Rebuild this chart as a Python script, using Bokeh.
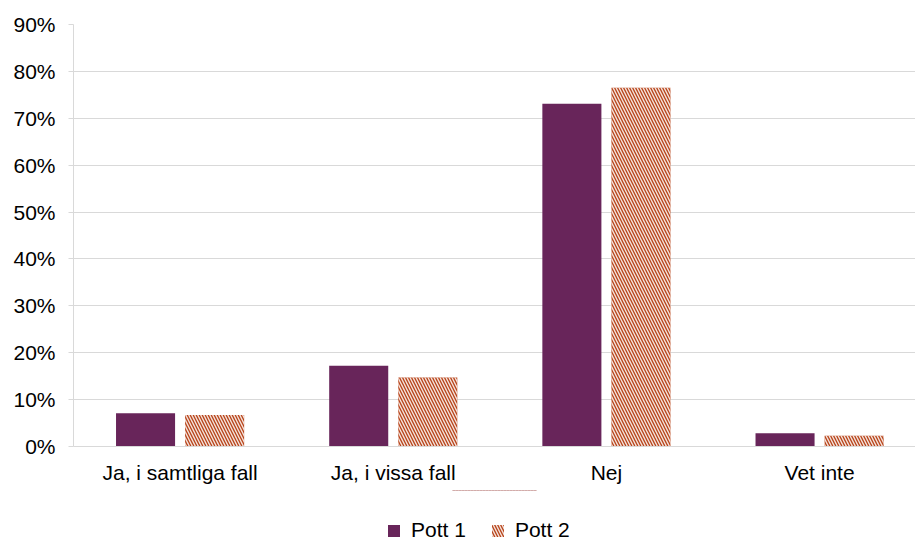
from bokeh.plotting import figure
from bokeh.models import ColumnDataSource, FixedTicker, NumeralTickFormatter, Legend, LegendItem
from bokeh.layouts import column
from bokeh.transform import dodge
from bokeh.embed import file_html
from bokeh.resources import INLINE

categories = ["Ja, i samtliga fall", "Ja, i vissa fall", "Nej", "Vet inte"]
pott1 = [0.071, 0.172, 0.731, 0.028]
pott2 = [0.067, 0.147, 0.765, 0.023]
series_names = ["Pott 1", "Pott 2"]
y_ticks = [0.0, 0.1, 0.2, 0.3, 0.4, 0.5, 0.6, 0.7, 0.8, 0.9]

xpos = [i + 0.5 for i in range(len(categories))]
src = ColumnDataSource(dict(x=xpos, p1=pott1, p2=pott2))

FONT = "Liberation Sans"
FS = "21px"
P1_STYLE = dict(fill_color="#68255A", line_color=None)
P2_STYLE = dict(fill_color="#B8451B", line_color=None,
                hatch_pattern="left_diagonal_line", hatch_color="white", hatch_alpha=0.85,
                hatch_scale=6, hatch_weight=1.4)

p = figure(width=915, height=490, output_backend="svg", toolbar_location=None,
           x_range=(0, 3.95), y_range=(0, 0.9),
           min_border_left=73, min_border_right=0, min_border_top=24, min_border_bottom=44)
p.outline_line_color = None
p.background_fill_color = "white"
p.border_fill_color = "white"

p.vbar(x=dodge("x", -0.162, range=p.x_range), top="p1", width=0.277, source=src, **P1_STYLE)
p.vbar(x=dodge("x", 0.162, range=p.x_range), top="p2", width=0.277, source=src, **P2_STYLE)

p.yaxis.ticker = FixedTicker(ticks=y_ticks)
p.yaxis.formatter = NumeralTickFormatter(format="0%")
p.xaxis.ticker = FixedTicker(ticks=xpos)
p.xaxis.major_label_overrides = {x: c for x, c in zip(xpos, categories)}

p.xgrid.grid_line_color = None
p.ygrid.grid_line_color = "#D9D9D9"
p.ygrid.grid_line_width = 1

for ax in (p.xaxis, p.yaxis):
    ax.axis_line_color = "#D9D9D9"
    ax.major_label_text_font = FONT
    ax.major_label_text_font_size = FS
    ax.major_label_text_color = "#000000"
    ax.minor_tick_line_color = None
p.yaxis.major_tick_line_color = "#D9D9D9"
p.yaxis.major_tick_out = 5
p.yaxis.major_tick_in = 0
p.yaxis.major_label_standoff = 13
p.xaxis.major_tick_line_color = None
p.xaxis.major_tick_out = 0
p.xaxis.major_label_standoff = 14

# legend strip below the chart (bars of the same data, kept out of view)
lf = figure(width=915, height=60, output_backend="svg", toolbar_location=None,
            x_range=(0, 1), y_range=(-2, -1), x_axis_type=None, y_axis_type=None,
            min_border_left=0, min_border_right=0, min_border_top=0, min_border_bottom=0)
lf.outline_line_color = None
lf.border_fill_color = "white"
lf.background_fill_color = "white"
l1 = lf.vbar(x="x", top="p1", width=0.1, source=src, **P1_STYLE)
l2 = lf.vbar(x="x", top="p2", width=0.1, source=src, **P2_STYLE)

legend = Legend(items=[LegendItem(label=series_names[0], renderers=[l1], index=0),
                       LegendItem(label=series_names[1], renderers=[l2], index=0)],
                orientation="horizontal", location=(313, 8),
                label_text_font=FONT, label_text_font_size=FS, label_text_color="#000000",
                glyph_width=15, glyph_height=15, spacing=24, label_standoff=10,
                border_line_color=None, background_fill_alpha=0, margin=0, padding=0)
lf.add_layout(legend, "center")

open("out.html", "w").write(file_html(column(p, lf, spacing=0), INLINE))
